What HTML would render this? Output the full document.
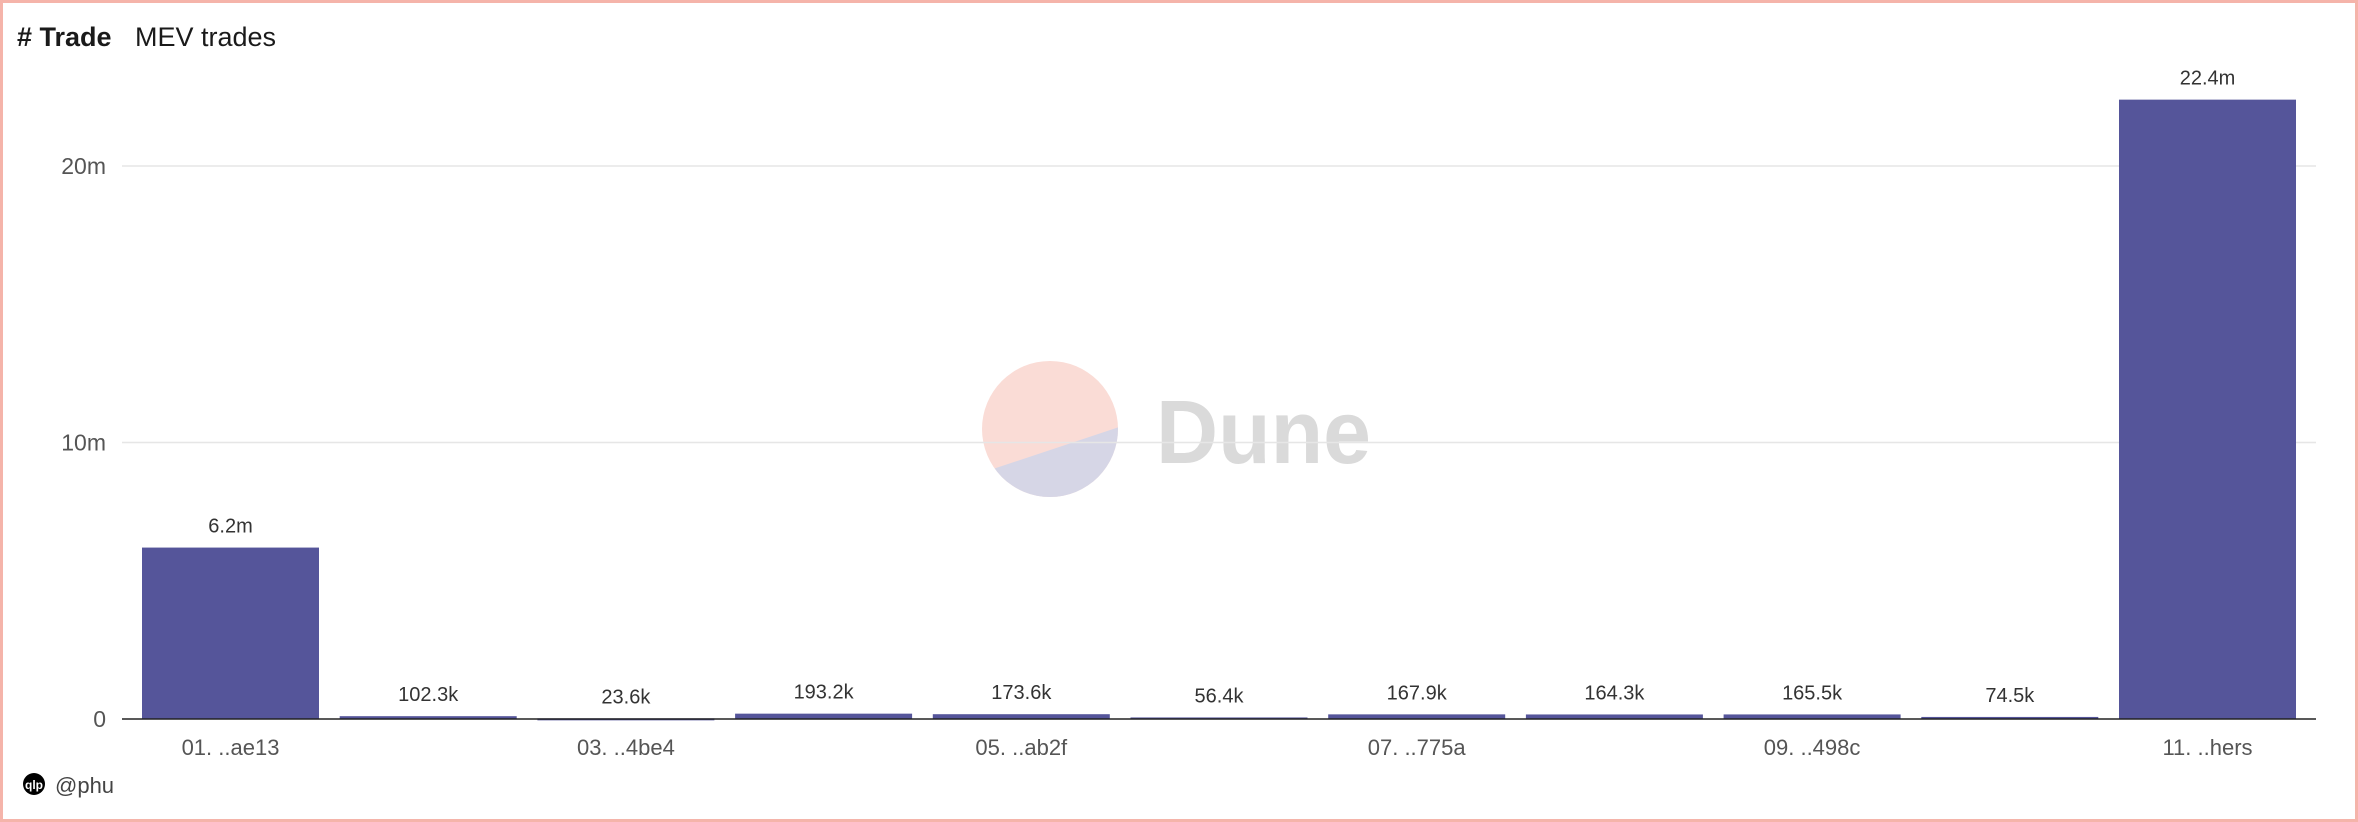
<!DOCTYPE html>
<html><head><meta charset="utf-8"><style>
html,body{margin:0;padding:0;background:#fff}
body{width:2358px;height:822px;overflow:hidden;position:relative;font-family:"Liberation Sans",sans-serif}
#frame{position:absolute;left:0;top:0;width:2352px;height:816px;border:3px solid #f5b4aa}
</style></head><body>
<div id="frame"></div>
<svg id="chart" width="2358" height="822" style="position:absolute;left:0;top:0">
<text x="17" y="46" font-size="27" font-weight="bold" fill="#1a1a1a"># Trade</text>
<text x="135" y="46" font-size="27" fill="#1a1a1a">MEV trades</text>
<g>
<clipPath id="cc"><circle cx="1050" cy="429" r="68"/></clipPath>
<circle cx="1050" cy="429" r="68" fill="#fadcd6"/>
<polygon clip-path="url(#cc)" points="960,480 1140,420 1140,520 960,520" fill="#d6d6e6"/>
<text x="1156" y="463" font-size="90" font-weight="bold" fill="#dadada" textLength="215" lengthAdjust="spacingAndGlyphs">Dune</text>
</g>
<g id="grid"></g>
<g id="bars"></g>
<g>
<circle cx="34" cy="784" r="11" fill="#000"/>
<text x="34" y="789" font-size="12" fill="#fff" text-anchor="middle" font-weight="bold">qlp</text>
<text x="55" y="793" font-size="22" fill="#444">@phu</text>
</g>
</svg>
<script>
const categories=["01. ..ae13","02. ..","03. ..4be4","04. ..","05. ..ab2f","06. ..","07. ..775a","08. ..","09. ..498c","10. ..","11. ..hers"];
const values=[6.2e6,102.3e3,23.6e3,193.2e3,173.6e3,56.4e3,167.9e3,164.3e3,165.5e3,74.5e3,22.4e6];
const valueLabels=["6.2m","102.3k","23.6k","193.2k","173.6k","56.4k","167.9k","164.3k","165.5k","74.5k","22.4m"];
const tickValues=[0,10e6,20e6];
const tickLabels=["0","10m","20m"];
const NS="http://www.w3.org/2000/svg";
const x0=122,x1=2316,y0=719,pxPerUnit=553/20e6;
const y=v=>y0-v*pxPerUnit;
const slot=(x1-x0-40+20.7)/categories.length;
const bw=177;
const bx=i=>x0+20+i*slot;
function mk(t,a,p){const e=document.createElementNS(NS,t);for(const k in a)e.setAttribute(k,a[k]);p.appendChild(e);return e;}
const grid=document.getElementById('grid'),bars=document.getElementById('bars');
tickValues.forEach((v,i)=>{
 if(v>0){const l=mk('line',{x1:x0,x2:x1,y1:y(v),y2:y(v),stroke:'#e6e6e6','stroke-width':1.5},grid);
 
 }
 const t=mk('text',{x:106,y:y(v)+8,'font-size':23,fill:'#555','text-anchor':'end'},grid);t.textContent=tickLabels[i];
 
 
});
values.forEach((v,i)=>{
 const r=mk('rect',{x:bx(i),y:y(v),width:bw,height:Math.max(y0-y(v),2),fill:'#55559a'},bars);
 
 
 const t=mk('text',{x:bx(i)+bw/2,y:y(v)-15,'font-size':20,fill:'#333','text-anchor':'middle'},bars);t.textContent=valueLabels[i];
 
 
 if(i%2===0){const c=mk('text',{x:bx(i)+bw/2,y:755,'font-size':22,fill:'#555','text-anchor':'middle'},bars);c.textContent=categories[i];
 
 }
});
const ax=mk('line',{x1:x0,x2:x1,y1:y0,y2:y0,stroke:'#222','stroke-width':1.5},bars);


</script>
</body></html>
